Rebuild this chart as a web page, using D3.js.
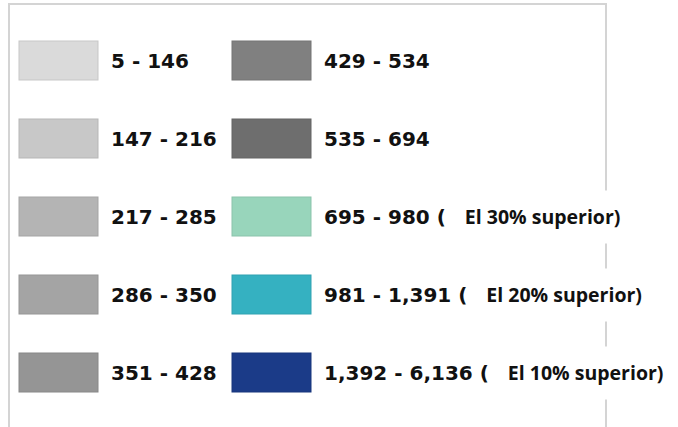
<!DOCTYPE html>
<html>
<head>
<meta charset="utf-8">
<script src="https://cdn.jsdelivr.net/npm/d3@7"></script>
<style>
  html, body { margin: 0; padding: 0; background: #ffffff; }
  svg { display: block; }
</style>
</head>
<body>
<svg id="legend" width="678" height="427"></svg>
<script>
// Class breaks of the choropleth legend, in order, with their fill colours
const classLabels = [
  "5 - 146", "147 - 216", "217 - 285", "286 - 350", "351 - 428",
  "429 - 534", "535 - 694", "695 - 980 (", "981 - 1,391 (", "1,392 - 6,136 ("
];
const classColors = [
  "#dadada", "#c8c8c8", "#b4b4b4", "#a4a4a4", "#959595",
  "#808080", "#6e6e6e", "#98d5bb", "#35b1c1", "#1b3b88"
];
// Notes marking the top percentiles
const classNotes = [
  null, null, null, null, null,
  null, null, "El 30% superior)", "El 20% superior)", "El 10% superior)"
];

const svg = d3.select("#legend");
const rowsPerColumn = 5;

const items = classLabels.map((label, i) => ({
  label, color: classColors[i], note: classNotes[i],
  col: Math.floor(i / rowsPerColumn), row: i % rowsPerColumn
}));

// Layout scales: one band per row, one position per column
const y = d3.scaleBand().domain(d3.range(rowsPerColumn)).range([2, 431]).paddingInner(0.5).paddingOuter(0.5);
const x = d3.scaleOrdinal().domain([0, 1]).range([19, 232]);
const swatchW = 79;

// Frame around the legend
svg.append("rect")
  .attr("x", 9).attr("y", 4)
  .attr("width", 597).attr("height", 460)
  .attr("fill", "none")
  .attr("stroke", "#d4d4d4")
  .attr("stroke-width", 2);

const g = svg.selectAll("g.item").data(items).join("g").attr("class", "item");

g.append("rect")
  .attr("x", d => x(d.col))
  .attr("y", d => y(d.row))
  .attr("width", swatchW)
  .attr("height", y.bandwidth())
  .attr("fill", d => d.color)
  .attr("stroke", d => d3.color(d.color).darker(0.25))
  .attr("stroke-width", 1);

const labels = g.append("text")
  .attr("x", d => x(d.col) + swatchW + 13)
  .attr("y", d => y(d.row) + y.bandwidth() / 2)
  .attr("dy", "0.36em")
  .attr("font-family", "'DejaVu Sans', Verdana, sans-serif")
  .attr("font-weight", "bold")
  .attr("font-size", 20)
  .attr("fill", "#111111")
  .text(d => d.label);

// Percentile notes set on white tags that sit over the frame
labels.each(function (d) {
  if (!d.note) return;
  const end = +this.getAttribute("x") + this.getComputedTextLength();
  const parent = d3.select(this.parentNode);
  const noteX = end + 19;
  const cy = y(d.row) + y.bandwidth() / 2;
  const tag = parent.append("rect").attr("fill", "#ffffff");
  const t = parent.append("text")
    .attr("x", noteX)
    .attr("y", cy)
    .attr("dy", "0.36em")
    .attr("font-family", "'Open Sans', Lato, sans-serif")
    .attr("font-weight", "bold")
    .attr("font-size", 19.5)
    .attr("fill", "#111111")
    .text(d.note);
  const w = t.node().getComputedTextLength();
  tag.attr("x", noteX - 18).attr("y", cy - 26)
    .attr("width", w + 28).attr("height", 53);
});
</script>
</body>
</html>
